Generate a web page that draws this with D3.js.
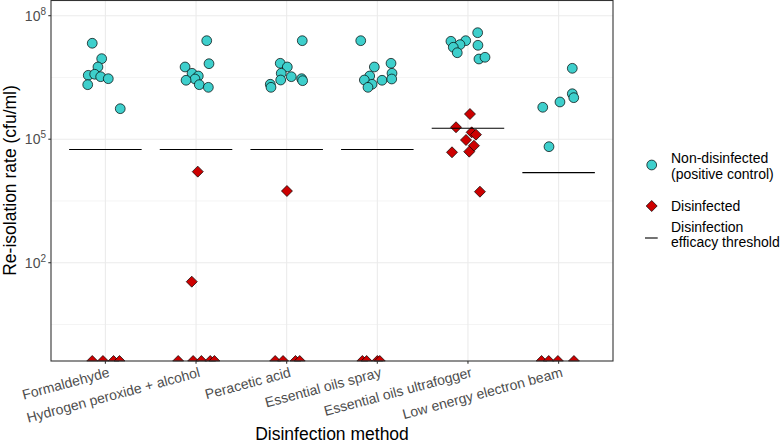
<!DOCTYPE html>
<html><head><meta charset="utf-8">
<script src="https://cdn.jsdelivr.net/npm/d3@7"></script>
<style>body{margin:0;background:#fff}svg{display:block}text{font-family:"Liberation Sans",Arial,sans-serif}</style>
</head><body><svg id="c" width="781" height="447"></svg>
<script>
const categories = ["Formaldehyde","Hydrogen peroxide + alcohol","Peracetic acid","Essential oils spray","Essential oils ultrafogger","Low energy electron beam"];
const yTickValues = [1e2, 1e5, 1e8];
const yTickExponents = ["2","5","8"];
const thresholds = [56200, 56200, 56200, 56200, 184000, 15400];

// Non-disinfected (positive control)
const ctrlCat   = [0,0,0,0,0,0,0,0,0, 1,1,1,1,1,1,1,1,1, 2,2,2,2,2,2,2,2,2,2, 3,3,3,3,3,3,3,3,3,3, 4,4,4,4,4,4,4,4,4, 5,5,5,5,5,5];
const ctrlValue = [2.14e7,9.04e6,5.68e6,3.56e6,3.78e6,3.30e6,2.95e6,2.11e6,5.51e5,
                   2.47e7,6.82e6,5.68e6,3.99e6,3.43e6,2.90e6,2.70e6,2.11e6,1.82e6,
                   2.47e7,6.98e6,5.68e6,3.99e6,3.30e6,2.74e6,2.95e6,2.64e6,2.16e6,1.82e6,
                   2.47e7,6.98e6,5.68e6,3.43e6,3.99e6,2.74e6,2.70e6,2.90e6,2.16e6,1.82e6,
                   3.86e7,2.39e7,2.47e7,1.98e7,1.71e7,1.26e7,1.91e7,8.87e6,9.77e6,
                   5.27e6,1.27e6,1.02e6,8.02e5,5.96e5,6.58e4];
const ctrlJitter = [-0.145,-0.041,-0.082,-0.189,-0.118,-0.052,0.032,-0.195,0.164,
                    0.118,0.143,-0.121,-0.044,0.025,-0.011,-0.110,0.036,0.136,
                    0.172,-0.071,0.007,-0.060,0.051,-0.066,0.165,0.176,-0.181,-0.173,
                    -0.183,0.151,-0.033,-0.084,0.162,-0.143,0.052,0.159,-0.058,-0.103,
                    0.107,-0.188,-0.025,-0.088,-0.162,-0.118,0.110,0.121,0.188,
                    0.151,0.151,0.167,0.015,-0.175,-0.106];

// Disinfected (0 = nothing re-isolated, drawn at the lower edge)
const disCat   = [0,0,0,0, 1,1,1,1,1,1,1, 2,2,2,2,2, 3,3,3,3, 4,4,4,4,4,4,4,4,4, 5,5,5,5];
const disValue = [0,0,0,0, 34.6,1.63e4,0,0,0,0,0, 5.52e3,0,0,0,0, 0,0,0,0,
                  4.09e5,1.95e5,1.47e5,1.29e5,9.57e4,6.95e4,4.81e4,4.98e4,5.31e3, 0,0,0,0];
const disJitter = [-0.145,-0.027,0.090,0.156, -0.047,0.019,-0.197,-0.032,0.059,0.157,0.203,
                   0.003,-0.127,-0.040,0.097,0.144, -0.165,-0.118,0.000,0.027,
                   0.022,-0.132,0.041,0.088,-0.022,0.066,-0.176,0.014,0.132, -0.188,-0.109,-0.008,0.169];

const svg = d3.select("#c");
const P = {l:51, r:613, t:0, b:361};
const x = d3.scalePoint().domain(d3.range(categories.length)).range([P.l,P.r]).padding(0.6);
const step = x.step();
const y = d3.scaleLog().domain([Math.pow(10,-0.387), Math.pow(10,8.381)]).range([P.b,P.t]);

const g = svg.append("g");
const minor = [0.5,3.5,6.5].map(e=>Math.pow(10,e));
g.selectAll(".mn").data(minor).join("line").attr("x1",P.l).attr("x2",P.r)
  .attr("y1",d=>y(d)).attr("y2",d=>y(d)).attr("stroke","#EBEBEB").attr("stroke-width",0.55);
g.selectAll(".mj").data(yTickValues).join("line").attr("x1",P.l).attr("x2",P.r)
  .attr("y1",d=>y(d)).attr("y2",d=>y(d)).attr("stroke","#EBEBEB").attr("stroke-width",1.1);
g.selectAll(".vx").data(d3.range(categories.length)).join("line").attr("y1",P.t).attr("y2",P.b)
  .attr("x1",d=>x(d)).attr("x2",d=>x(d)).attr("stroke","#EBEBEB").attr("stroke-width",1.1);

const pts = svg.append("g");
pts.selectAll("circle").data(ctrlValue.map((v,i)=>({v,c:ctrlCat[i],j:ctrlJitter[i]}))).join("circle")
  .attr("cx",d=>x(d.c)+d.j*step).attr("cy",d=>y(d.v)).attr("r",4.9)
  .attr("fill","#3ECFCC").attr("stroke","#000").attr("stroke-width",0.7);
const ds = 5.5;
pts.selectAll("path.dm").data(disValue.map((v,i)=>({v,c:disCat[i],j:disJitter[i]}))).join("path")
  .attr("class","dm")
  .attr("d",d=>{const cx=x(d.c)+d.j*step;
    if(d.v>0){const cy=y(d.v);return `M${cx},${cy-ds}L${cx+ds},${cy}L${cx},${cy+ds}L${cx-ds},${cy}Z`;}
    const cy=P.b; return `M${cx-ds},${cy}L${cx},${cy-ds}L${cx+ds},${cy}Z`;})
  .attr("fill","#CD0000").attr("stroke","#000").attr("stroke-width",0.7);
pts.selectAll("line.th").data(thresholds.map((v,i)=>({v,c:i}))).join("line").attr("class","th")
  .attr("x1",d=>x(d.c)-0.4*step).attr("x2",d=>x(d.c)+0.4*step)
  .attr("y1",d=>y(d.v)).attr("y2",d=>y(d.v)).attr("stroke","#000").attr("stroke-width",1.1);

svg.append("rect").attr("x",P.l).attr("y",P.t+0.5).attr("width",P.r-P.l).attr("height",P.b-P.t-0.5)
  .attr("fill","none").attr("stroke","#333333").attr("stroke-width",1.1);

const ya = svg.append("g");
yTickValues.forEach((v,i)=>{
  const yy=y(v);
  ya.append("line").attr("x1",P.l-2.7).attr("x2",P.l).attr("y1",yy).attr("y2",yy).attr("stroke","#333").attr("stroke-width",1.1);
  const t=ya.append("text").attr("x",P.l-5).attr("y",yy+5).attr("text-anchor","end").attr("fill","#4D4D4D").attr("font-size",14);
  t.append("tspan").text("10");
  t.append("tspan").attr("dy",-6).attr("font-size",10).text(yTickExponents[i]);
});
const xa = svg.append("g");
categories.forEach((c,i)=>{
  const xx=x(i);
  xa.append("line").attr("x1",xx).attr("x2",xx).attr("y1",P.b).attr("y2",P.b+2.7).attr("stroke","#333").attr("stroke-width",1.1);
  xa.append("text").attr("transform",`translate(${xx+2},${P.b+5}) rotate(-15)`).attr("text-anchor","end")
    .attr("dy","0.78em").attr("fill","#4D4D4D").attr("font-size",14).text(c);
});
svg.append("text").attr("x",(P.l+P.r)/2).attr("y",440).attr("text-anchor","middle").attr("font-size",17.5).attr("fill","#000").text("Disinfection method");
svg.append("text").attr("transform",`translate(15.5,${(P.t+P.b)/2}) rotate(-90)`).attr("text-anchor","middle").attr("font-size",17.5).attr("fill","#000").text("Re-isolation rate (cfu/ml)");

const lg = svg.append("g");
lg.append("circle").attr("cx",651.7).attr("cy",165).attr("r",4.9).attr("fill","#3ECFCC").attr("stroke","#000").attr("stroke-width",0.7);
lg.append("path").attr("d",`M651.7,${206-ds}L${651.7+ds},206L651.7,${206+ds}L${651.7-ds},206Z`).attr("fill","#CD0000").attr("stroke","#000").attr("stroke-width",0.7);
lg.append("line").attr("x1",645).attr("x2",657.7).attr("y1",238).attr("y2",238).attr("stroke","#000").attr("stroke-width",1.1);
const lt = [["Non-disinfected",163],["(positive control)",178.5],["Disinfected",210.5],["Disinfection",231.5],["efficacy threshold",247]];
lt.forEach(([s,yy])=>lg.append("text").attr("x",671).attr("y",yy).attr("font-size",14).attr("fill","#000").text(s));
</script></body></html>
